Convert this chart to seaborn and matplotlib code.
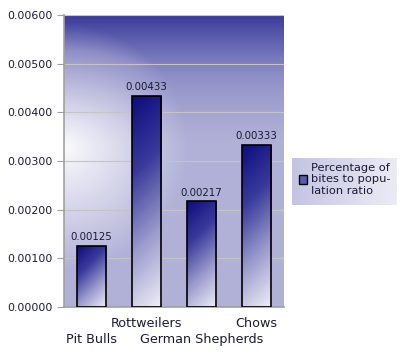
import numpy as np
import pandas as pd
import matplotlib
matplotlib.use("Agg")
import matplotlib.pyplot as plt
from matplotlib.colors import LinearSegmentedColormap
from matplotlib.patches import Patch
import seaborn as sns

# data
breeds = ["Pit Bulls", "Rottweilers", "German Shepherds", "Chows"]
ratios = [0.00125, 0.00433, 0.00217, 0.00333]
series_name = "Percentage of\nbites to popu-\nlation ratio"

df = pd.DataFrame({"breed": breeds, "ratio": ratios})

sns.set_style("white")
plt.rcParams["font.family"] = ["DejaVu Sans"]
txt = "#1a1a36"

fig = plt.figure(figsize=(4.05, 3.64), dpi=100)
ax = fig.add_axes([64 / 405, 57 / 364, 220 / 405, 292 / 364])

sns.barplot(data=df, x="breed", y="ratio", ax=ax, width=0.53, color="#5a5aae", zorder=3)

# background: light lavender, white spot at left middle, dark blue towards the top
bg_cmap = LinearSegmentedColormap.from_list(
    "bg", [(0, "#fafafd"), (0.5, "#b2b2d8"), (0.72, "#9090c8"), (1, "#3c3c9c")])
yy, xx = np.mgrid[0:1:300j, 0:1:300j]
dist = np.sqrt((xx * 0.75) ** 2 + ((yy - 0.55) * 1.0) ** 2)
t = 0.5 * np.clip(dist / 0.42, 0, 1) + 0.5 * np.clip((yy - 0.55) / 0.45, 0, 1) ** 1.3
ax.imshow(t, cmap=bg_cmap, vmin=0, vmax=1, extent=[0, 1, 0, 1], origin="lower",
          transform=ax.transAxes, aspect="auto", zorder=0, interpolation="bilinear")

# gradient fill of bars: dark navy top-left to white bottom-right, 45 degree bands in pixels
bar_cmap = LinearSegmentedColormap.from_list("bar", ["#0c0c7c", "#3a3a9c", "#9c9cce", "#f0f0f8"])
px_per_x = 220 / 4
px_per_y = 292 / 0.006
for p in ax.patches:
    x0, y0 = p.get_x(), p.get_y()
    w, h = p.get_width(), p.get_height()
    wp, hp = max(int(w * px_per_x), 2), max(int(h * px_per_y), 2)
    gy, gx = np.mgrid[0:hp, 0:wp]
    grad = (gx + (hp - gy)) / (wp + hp)
    im = ax.imshow(grad, cmap=bar_cmap, vmin=0, vmax=1, extent=[x0, x0 + w, y0, y0 + h],
                   origin="lower", aspect="auto", zorder=2.5, interpolation="bilinear")
    im.set_clip_path(p)
    p.set_facecolor("none")
    p.set_edgecolor("black")
    p.set_linewidth(1.2)
    ax.text(x0 + w / 2, y0 + h + 0.00008, f"{h:.5f}", ha="center", va="bottom",
            fontsize=7.4, color=txt, zorder=4)

ax.set_xlim(-0.5, 3.5)
ax.set_ylim(0, 0.006)
yt = np.arange(0, 0.0061, 0.001)
ax.set_yticks(yt)
ax.set_yticklabels([f"{v:.5f}" for v in yt], fontsize=7.9, color=txt)

# staggered category labels: even ones on the lower row
ax.set_xticks(range(len(breeds)))
ax.set_xticklabels(["" if i % 2 == 0 else b for i, b in enumerate(breeds)], fontsize=9.2, color=txt)
for i, b in enumerate(breeds):
    if i % 2 == 0:
        ax.annotate(b, xy=(i, 0), xycoords=("data", "axes fraction"), xytext=(0, -19),
                    textcoords="offset points", ha="center", va="top", fontsize=9.2, color=txt)
ax.set_xticks(np.arange(-0.5, 4, 1), minor=True)
ax.tick_params(axis="x", which="major", length=0, pad=7.5)
ax.tick_params(axis="x", which="minor", length=5, color="#a0a0a0", direction="out")
ax.tick_params(axis="y", length=5, color="#a0a0a0", direction="out", left=True, pad=3)
ax.grid(axis="y", color="#c4c4c4", linewidth=0.8, zorder=1)
ax.set_axisbelow(True)
ax.set_xlabel("")
ax.set_ylabel("")
for s in ["top", "right"]:
    ax.spines[s].set_visible(False)
for s in ["left", "bottom"]:
    ax.spines[s].set_color("#a0a0a0")
    ax.spines[s].set_linewidth(1.2)

# legend box with a left-to-right lavender gradient
lax = fig.add_axes([292 / 405, 1 - 205 / 364, 104 / 405, 47 / 364], zorder=-1)
leg_cmap = LinearSegmentedColormap.from_list("leg", ["#c4c4e2", "#ececf6"])
lax.imshow(np.linspace(0, 1, 100)[None, :], cmap=leg_cmap, aspect="auto", extent=[0, 1, 0, 1])
lax.set_axis_off()

handle = Patch(facecolor="#5a5aae", edgecolor="black", linewidth=1)
leg = fig.legend([handle], [series_name], loc="upper left", bbox_to_anchor=(296 / 405, 1 - 160 / 364),
                 fontsize=8.2, frameon=False, handlelength=0.75, handleheight=0.75,
                 handletextpad=0.35, borderpad=0.25, borderaxespad=0, labelcolor=txt)

fig.savefig("out.png", dpi=100)
